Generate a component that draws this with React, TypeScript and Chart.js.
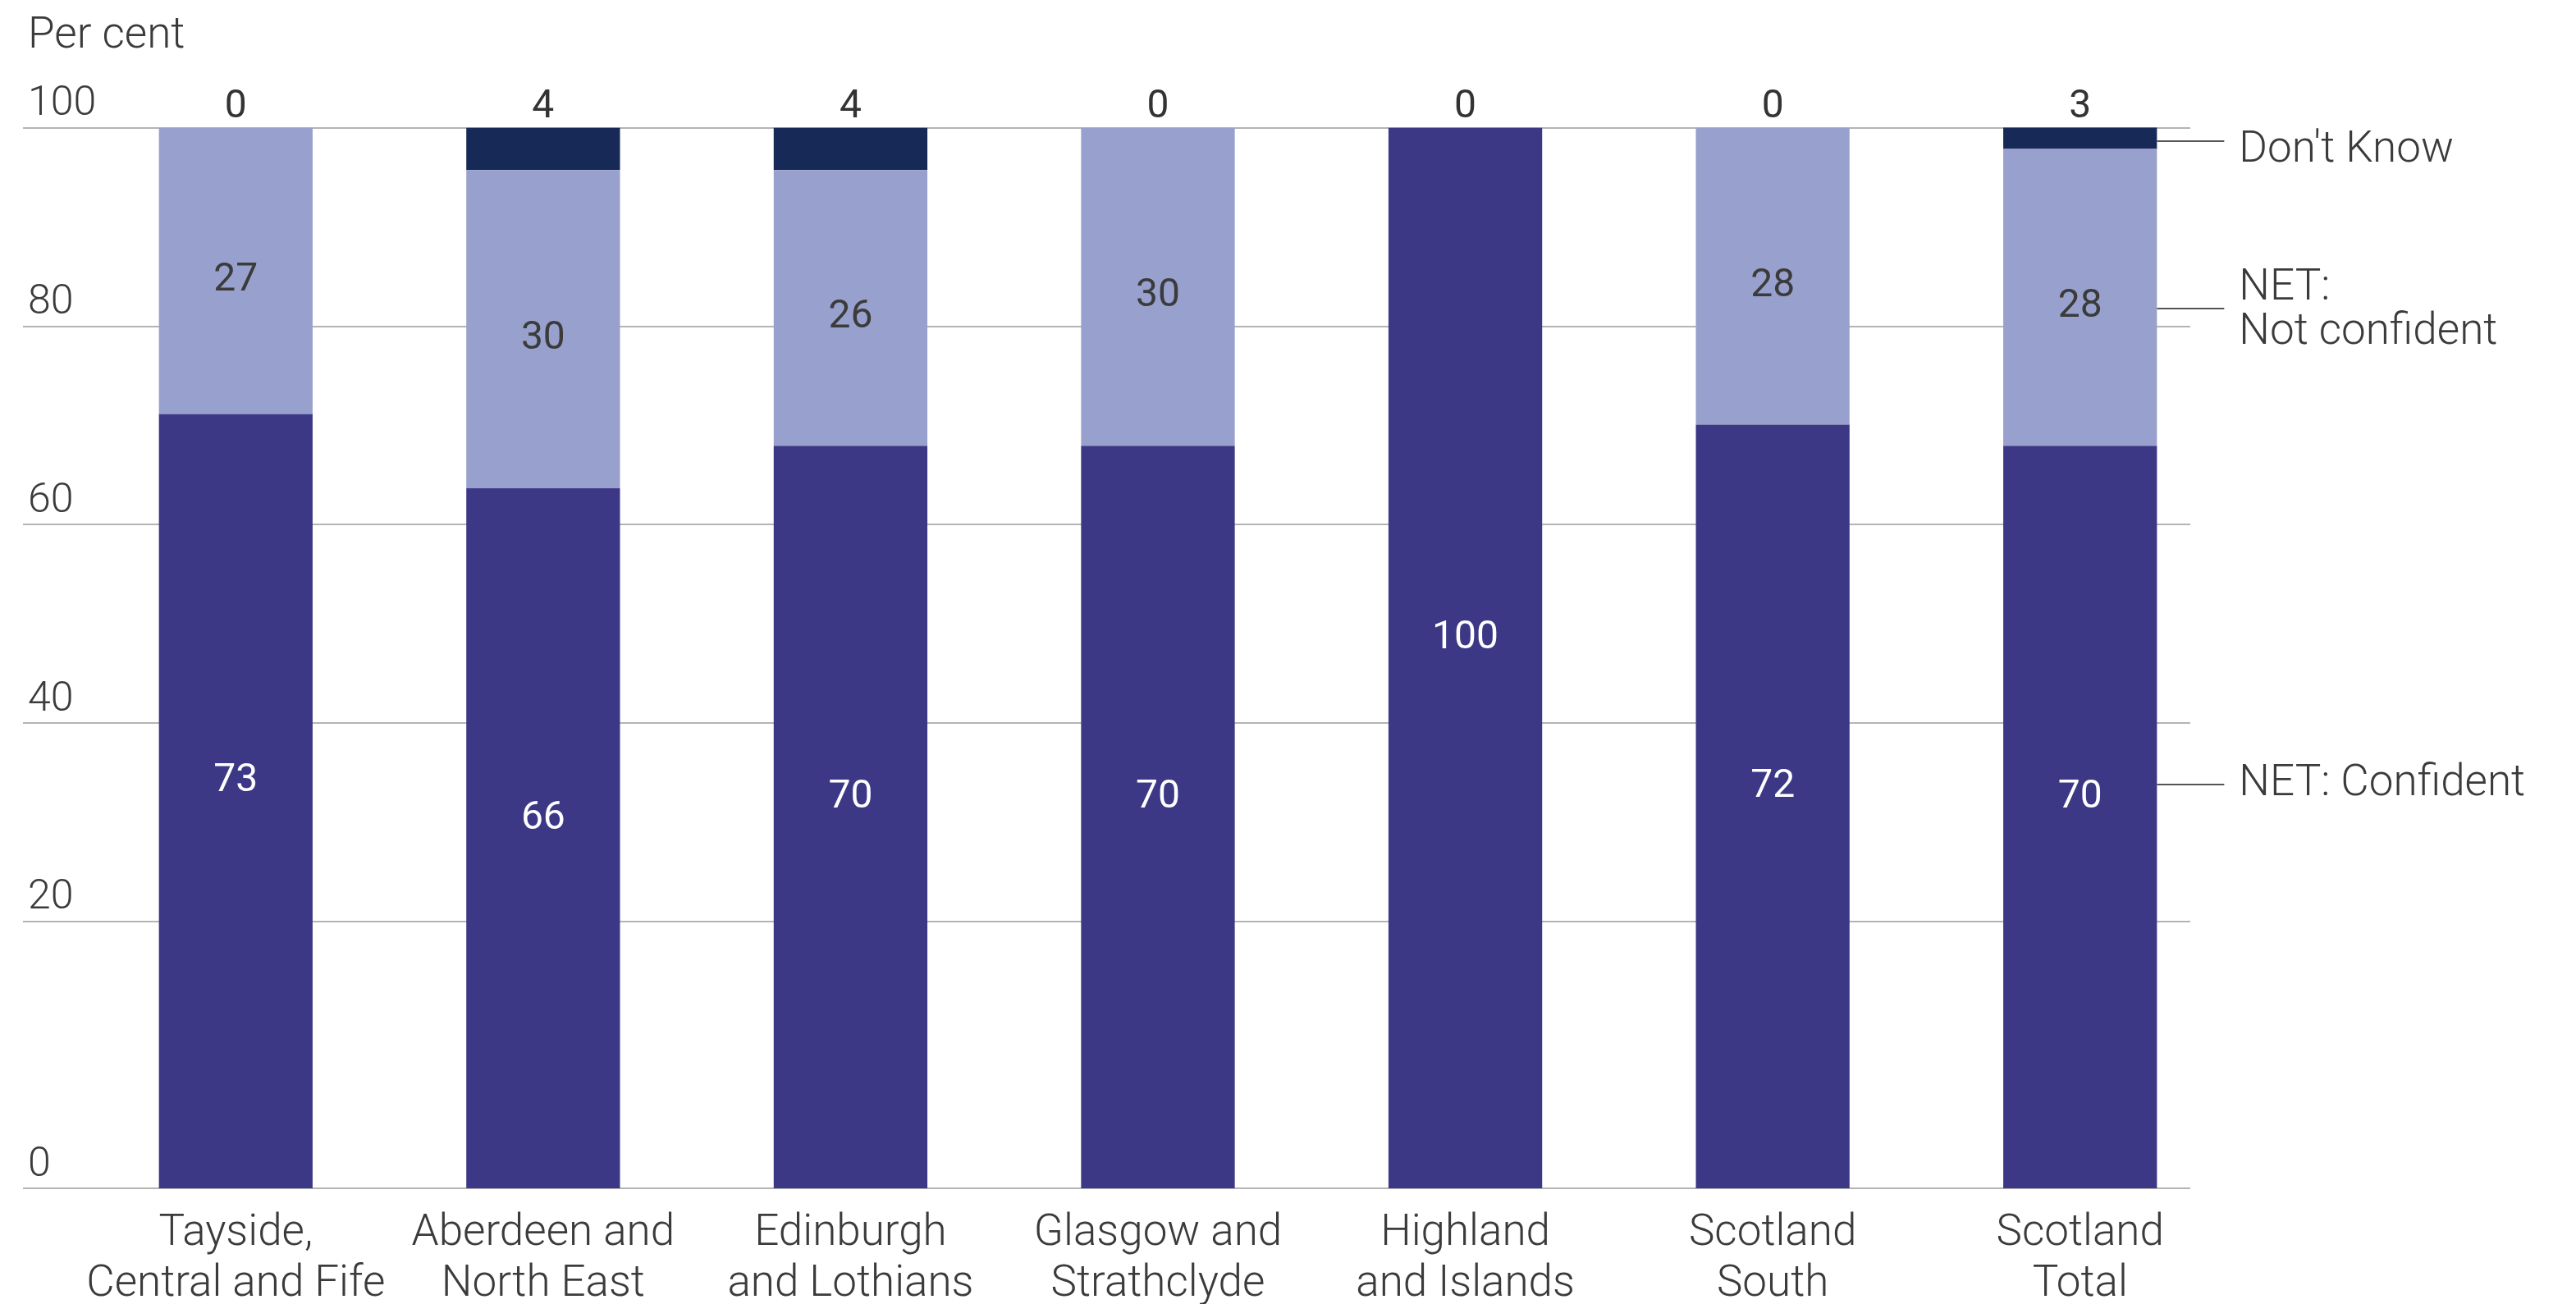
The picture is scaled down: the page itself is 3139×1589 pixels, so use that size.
import React, { useEffect, useRef } from 'react';
import { Chart, registerables } from 'chart.js';

Chart.register(...registerables);

// ---------------- data ----------------
const categories: string[][] = [
  ['Tayside,', 'Central and Fife'],
  ['Aberdeen and', 'North East'],
  ['Edinburgh', 'and Lothians'],
  ['Glasgow and', 'Strathclyde'],
  ['Highland', 'and Islands'],
  ['Scotland', 'South'],
  ['Scotland', 'Total'],
];
const confident = [73, 66, 70, 70, 100, 72, 70];
const notConfident = [27, 30, 26, 30, 0, 28, 28];
const dontKnow = [0, 4, 4, 0, 0, 0, 3];

const seriesNames = ['NET: Confident', 'NET: Not confident', "Don't Know"];
const seriesLabelLines = [['NET: Confident'], ['NET:', 'Not confident'], ["Don't Know"]];

// gridline positions as they appear in the picture (data units), and their printed labels
const yGridValues = [0, 25.17, 43.87, 62.57, 81.26, 100];
const yTickLabels = ['0', '20', '40', '60', '80', '100'];
const yTitle = 'Per cent';

// ---------------- styles ----------------
const COLORS = ['#3c3886', '#98a1cd', '#162957'];
const TEXT = '#3b3b3b';
const GRID = '#b4b4b4';
const FONT = 'Roboto';
const LABEL_SHIFT = [-24, 12, 0]; // vertical nudge of in-bar labels (px) per series
const LEADER_DY = [-16, 2, 3]; // leader line nudge vs. label position
const NOTE_DY = [0, 2, 12]; // series-name text nudge vs. leader

const gridPlugin = {
  id: 'customGrid',
  beforeDatasetsDraw(chart: any) {
    const { ctx, chartArea, scales } = chart;
    const y = scales.y;
    ctx.save();
    ctx.strokeStyle = GRID;
    ctx.lineWidth = 2;
    y.ticks.forEach((_t: any, i: number) => {
      const py = Math.round(y.getPixelForTick(i));
      ctx.beginPath();
      ctx.moveTo(chartArea.left - 72, py);
      ctx.lineTo(chartArea.right - 53, py);
      ctx.stroke();
    });
    ctx.restore();
  },
};

const labelPlugin = {
  id: 'valueLabels',
  afterDatasetsDraw(chart: any) {
    const { ctx, chartArea, scales } = chart;
    ctx.save();
    ctx.textAlign = 'center';
    ctx.textBaseline = 'middle';
    ctx.font = `400 48px ${FONT}`;
    const segCenter = (bar: any) => {
      const top = Math.max(Math.min(bar.y, bar.base), chartArea.top);
      const bottom = Math.max(bar.y, bar.base);
      return (top + bottom) / 2;
    };
    [0, 1].forEach((di) => {
      const meta = chart.getDatasetMeta(di);
      meta.data.forEach((bar: any, i: number) => {
        const v = chart.data.datasets[di].data[i];
        if (!v) return;
        ctx.fillStyle = di === 0 ? '#ffffff' : TEXT;
        ctx.fillText(String(v), bar.x, segCenter(bar) + LABEL_SHIFT[di]);
      });
    });
    // values on top (Don't Know)
    const topY = scales.y.getPixelForValue(100);
    ctx.textBaseline = 'alphabetic';
    ctx.fillStyle = '#333333';
    chart.getDatasetMeta(2).data.forEach((bar: any, i: number) => {
      ctx.fillText(String(chart.data.datasets[2].data[i]), bar.x, topY - 13);
    });
    // right-side series annotations
    const last = categories.length - 1;
    ctx.font = `300 53px ${FONT}`;
    ctx.textAlign = 'left';
    ctx.textBaseline = 'middle';
    for (let di = 0; di < 3; di++) {
      const bar: any = chart.getDatasetMeta(di).data[last];
      const x1 = bar.x + bar.width / 2;
      const yc = segCenter(bar) + LABEL_SHIFT[di] + LEADER_DY[di];
      ctx.strokeStyle = '#555555';
      ctx.lineWidth = 2;
      ctx.beginPath();
      ctx.moveTo(x1, Math.round(yc));
      ctx.lineTo(x1 + 82, Math.round(yc));
      ctx.stroke();
      const lines = seriesLabelLines[di];
      const lh = 54;
      const startY = yc + NOTE_DY[di] - ((lines.length - 1) * lh) / 2;
      ctx.fillStyle = TEXT;
      lines.forEach((ln, k) => ctx.fillText(ln, x1 + 100, startY + k * lh));
    }
    ctx.restore();
  },
};

export default function App() {
  const ref = useRef<HTMLCanvasElement | null>(null);
  useEffect(() => {
    if (!ref.current) return;
    Chart.defaults.font.family = FONT;
    const chart = new Chart(ref.current, {
      type: 'bar',
      data: {
        labels: categories as any,
        datasets: [
          { label: seriesNames[0], data: confident, backgroundColor: COLORS[0], clip: 0 as any },
          { label: seriesNames[1], data: notConfident, backgroundColor: COLORS[1], clip: 0 as any },
          { label: seriesNames[2], data: dontKnow, backgroundColor: COLORS[2], clip: 0 as any },
        ],
      },
      options: {
        responsive: false,
        animation: false,
        layout: { padding: { left: 34, right: 417, top: 0, bottom: 0 } },
        datasets: { bar: { barPercentage: 0.5, categoryPercentage: 1.0 } },
        plugins: {
          legend: { display: false },
          tooltip: { enabled: false },
          title: {
            display: true,
            text: yTitle,
            align: 'start',
            color: TEXT,
            font: { size: 53, weight: 300 as any, family: FONT, lineHeight: 1.2 },
            padding: { top: 13, bottom: 79 },
          },
        },
        scales: {
          x: {
            stacked: true,
            grid: { display: false },
            border: { display: false },
            ticks: {
              color: TEXT,
              font: { size: 53, weight: 300 as any, family: FONT, lineHeight: 1.17 },
              padding: 17,
              maxRotation: 0,
              autoSkip: false,
            },
            afterFit(scale: any) {
              scale.height = 141;
            },
          },
          y: {
            stacked: true,
            min: 0,
            max: 100,
            grid: { display: false },
            border: { display: false },
            afterBuildTicks(scale: any) {
              scale.ticks = yGridValues.map((v) => ({ value: v }));
            },
            ticks: {
              color: TEXT,
              font: { size: 50, weight: 300 as any, family: FONT },
              mirror: true,
              crossAlign: 'near',
              labelOffset: -28,
              padding: -66,
              callback: (_v: any, i: number) => yTickLabels[i],
            },
            afterFit(scale: any) {
              scale.width = 66;
            },
          },
        },
      },
      plugins: [gridPlugin, labelPlugin],
    });
    return () => chart.destroy();
  }, []);
  return (
    <div style={{ position: 'fixed', left: 0, top: 0, width: 3139, height: 1589, background: '#ffffff' }}>
      <canvas ref={ref} width={3139} height={1589} style={{ width: 3139, height: 1589, display: 'block' }} />
    </div>
  );
}
